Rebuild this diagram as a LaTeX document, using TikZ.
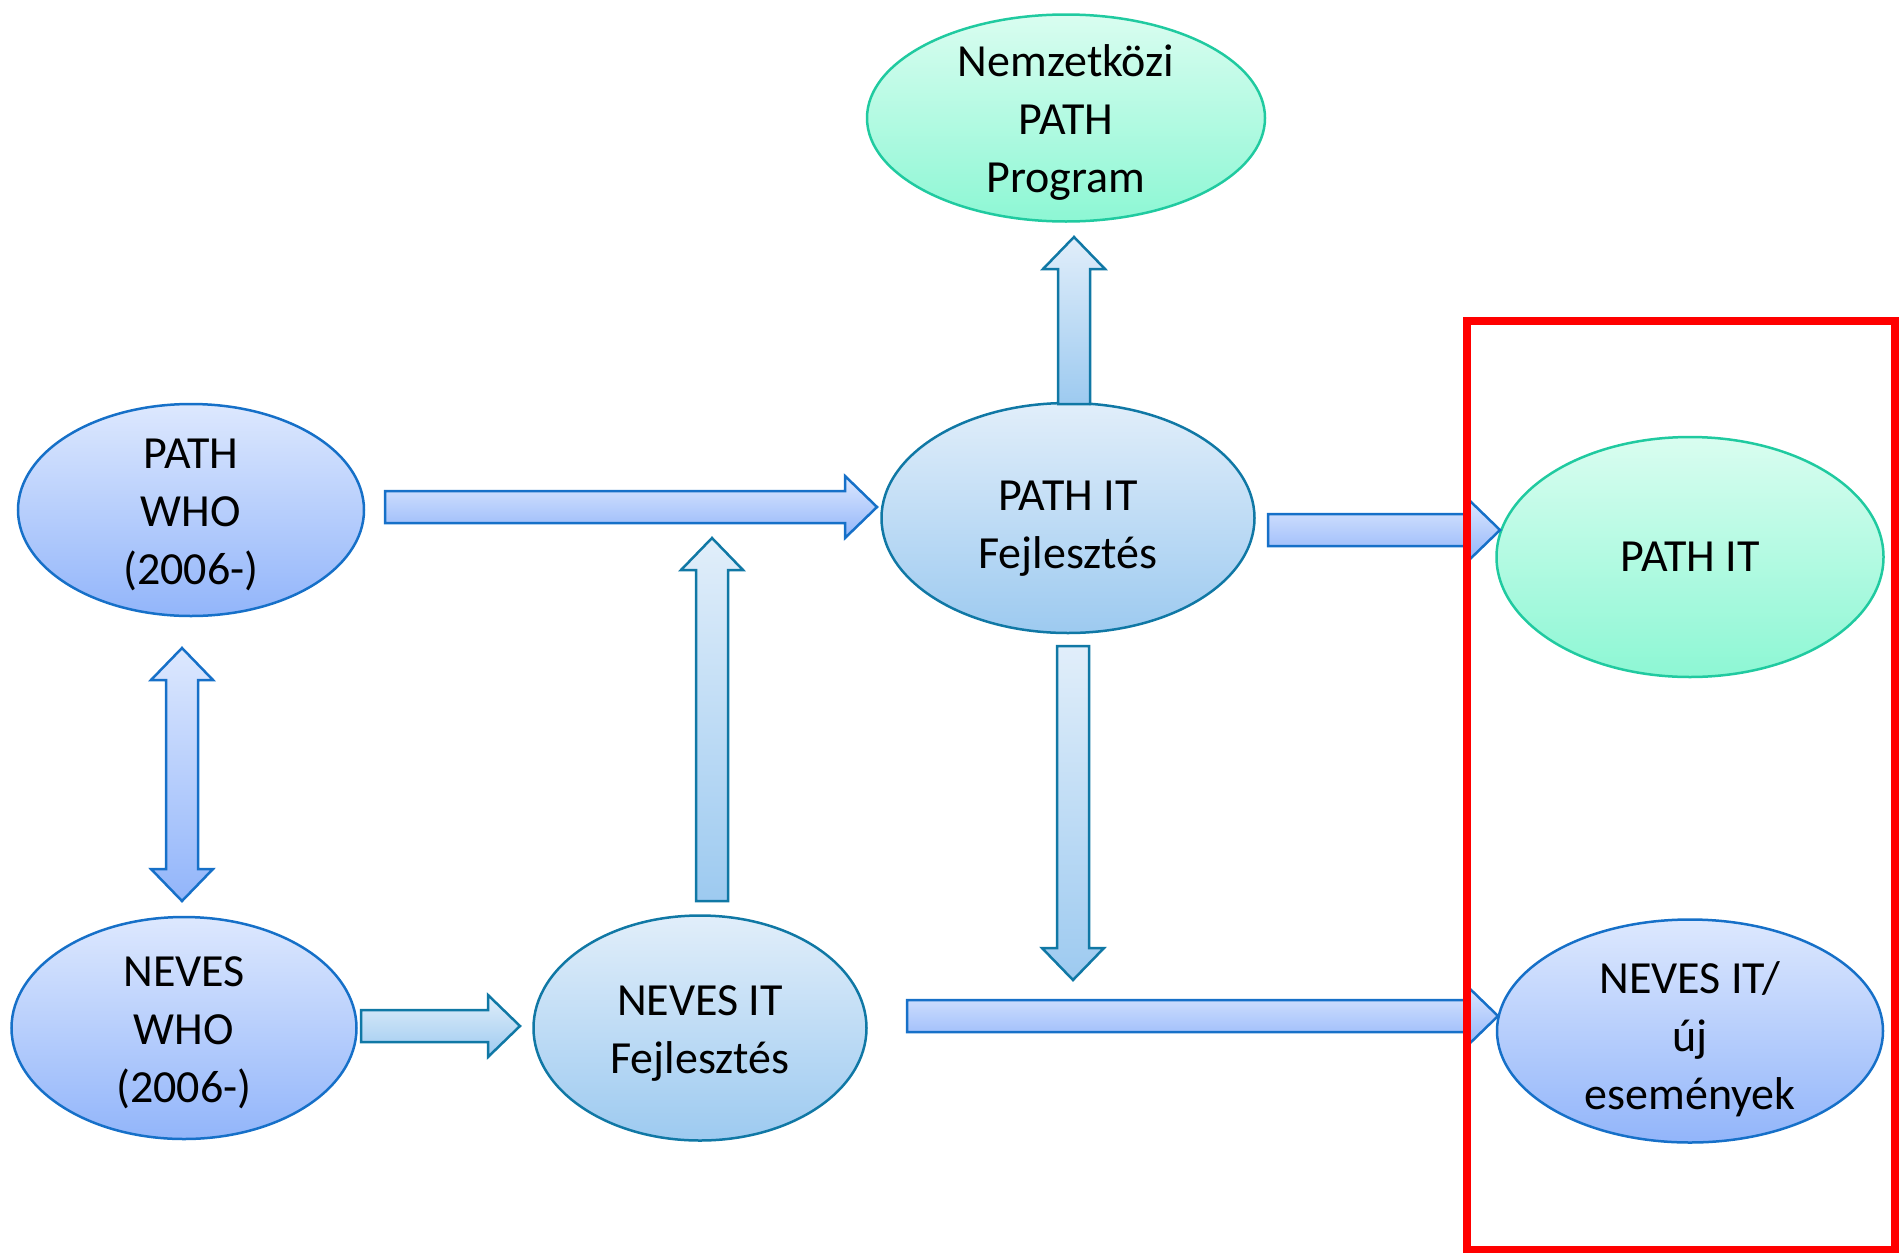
\documentclass[tikz,border=0pt]{standalone}
\usepackage{fontspec}
\setmainfont{Carlito}
\usetikzlibrary{calc,shapes.geometric}
\definecolor{bluetop}{RGB}{221,232,254}
\definecolor{bluebot}{RGB}{146,181,250}
\definecolor{blueline}{RGB}{22,112,200}
\definecolor{tealtop}{RGB}{225,238,250}
\definecolor{tealbot}{RGB}{157,202,240}
\definecolor{tealline}{RGB}{16,120,165}
\definecolor{greentop}{RGB}{217,253,240}
\definecolor{greenbot}{RGB}{141,247,212}
\definecolor{greenline}{RGB}{32,202,160}
\newcommand\basw{8pt}
\newcommand\bahw{15.5pt}
\newcommand\bahl{16pt}
% single block arrow from #2 to #3
\newcommand\blockarrow[3]{%
  \coordinate (ba-h) at ($(#3)!\bahl!(#2)$);
  \path[#1] ($(#2)!\basw!90:(#3)$) -- ($(ba-h)!\basw!90:(#3)$) -- ($(ba-h)!\bahw!90:(#3)$) -- (#3)
    -- ($(ba-h)!\bahw!-90:(#3)$) -- ($(ba-h)!\basw!-90:(#3)$) -- ($(#2)!\basw!-90:(#3)$) -- cycle;}
% double block arrow between #2 and #3
\newcommand\dblockarrow[3]{%
  \coordinate (da-h1) at ($(#2)!\bahl!(#3)$);
  \coordinate (da-h2) at ($(#3)!\bahl!(#2)$);
  \path[#1] (#2) -- ($(da-h1)!\bahw!90:(#3)$) -- ($(da-h1)!\basw!90:(#3)$) -- ($(da-h2)!\basw!90:(#3)$)
    -- ($(da-h2)!\bahw!90:(#3)$) -- (#3) -- ($(da-h2)!\bahw!-90:(#3)$) -- ($(da-h2)!\basw!-90:(#3)$)
    -- ($(da-h1)!\basw!-90:(#3)$) -- ($(da-h1)!\bahw!-90:(#3)$) -- cycle;}
\tikzset{
  ellbase/.style={ellipse, inner sep=0pt, line width=1.25pt},
  blueell/.style={ellbase, draw=blueline, top color=bluetop, bottom color=bluebot},
  tealell/.style={ellbase, draw=tealline, top color=tealtop, bottom color=tealbot},
  greenell/.style={ellbase, draw=greenline, top color=greentop, bottom color=greenbot},
  lbl/.style={align=center, font=\fontsize{23pt}{29pt}\selectfont, inner sep=0pt, text=black},
  bluearr/.style={draw=blueline, line width=1.25pt, top color=bluetop, bottom color=bluebot},
  tealarr/.style={draw=tealline, line width=1.25pt, top color=tealtop, bottom color=tealbot},
  redbox/.style={draw=red, line width=3.6pt}
}
\begin{document}
\begin{tikzpicture}[x=0.5pt,y=-0.5pt]
\useasboundingbox (0,0) rectangle (1901,1253);
% ellipses
\node[greenell, minimum width=199pt, minimum height=103.5pt] (nemz) at (1066,118) {};
\node[lbl, yshift=-2pt] (nemz-t) at (nemz) {Nemzetközi\\PATH\\Program};
\node[tealell, minimum width=186.5pt, minimum height=115pt] (pitf) at (1068,518) {};
\node[lbl, yshift=-5.5pt] (pitf-t) at (pitf) {PATH IT\\Fejlesztés};
\node[blueell, minimum width=173pt, minimum height=106pt] (pwho) at (191,510) {};
\node[lbl, yshift=-2.5pt] (pwho-t) at (pwho) {PATH\\WHO\\(2006-)};
\node[greenell, minimum width=193.5pt, minimum height=120pt] (pit) at (1690,557) {};
\node[lbl] (pit-t) at (pit) {PATH IT};
\node[blueell, minimum width=172.5pt, minimum height=111pt] (nwho) at (184,1028) {};
\node[lbl, yshift=-2.5pt] (nwho-t) at (nwho) {NEVES\\WHO\\(2006-)};
\node[tealell, minimum width=166.5pt, minimum height=112.5pt] (nitf) at (700,1028) {};
\node[lbl, yshift=-3pt] (nitf-t) at (nitf) {NEVES IT\\Fejlesztés};
\node[blueell, minimum width=193pt, minimum height=111.5pt] (nit) at (1690,1031) {};
\node[lbl, yshift=-4pt] (nit-t) at (nit) {NEVES IT/\\új\\események};
% arrow end points
\coordinate (a1s) at (385,507);   \coordinate (a1e) at (877,507);
\coordinate (a2s) at (1268,530);  \coordinate (a2e) at (1500,530);
\coordinate (a3s) at (182,648);   \coordinate (a3e) at (182,901);
\coordinate (a4s) at (361,1026);  \coordinate (a4e) at (520,1026);
\coordinate (a5s) at (712,901);   \coordinate (a5e) at (712,538);
\coordinate (a6s) at (1074,404);  \coordinate (a6e) at (1074,237);
\coordinate (a7s) at (1073,646);  \coordinate (a7e) at (1073,980);
\coordinate (a8s) at (907,1016);  \coordinate (a8e) at (1498,1016);
\blockarrow{bluearr}{a1s}{a1e}
\blockarrow{bluearr}{a2s}{a2e}
\dblockarrow{bluearr}{a3s}{a3e}
\blockarrow{tealarr}{a4s}{a4e}
\blockarrow{tealarr}{a5s}{a5e}
\blockarrow{tealarr}{a6s}{a6e}
\blockarrow{tealarr}{a7s}{a7e}
\blockarrow{bluearr}{a8s}{a8e}
% red frame
\draw[redbox] (1467,321) rectangle (1895,1250);
\end{tikzpicture}
\end{document}
